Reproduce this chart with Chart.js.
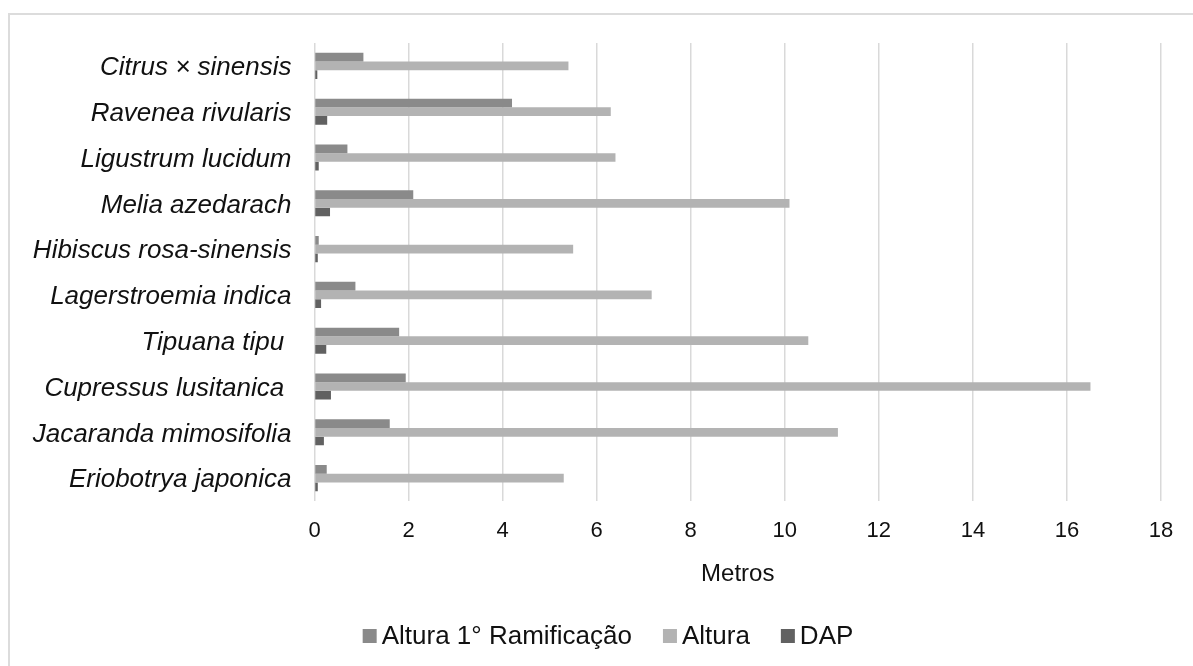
<!DOCTYPE html>
<html lang="pt">
<head>
<meta charset="utf-8">
<title>Altura, 1ª ramificação e DAP por espécie</title>
<script src="https://cdn.jsdelivr.net/npm/chart.js@4.4.1/dist/chart.umd.min.js"></script>
<style>
  html, body { margin: 0; padding: 0; background: #fff; overflow: hidden; }
  #wrap { position: relative; width: 1193px; height: 666px; overflow: hidden; }
  #frame { position: absolute; left: 8px; top: 13px; width: 1240px; height: 700px;
           border: 2px solid #dcdcdc; box-sizing: border-box; }
  canvas { position: absolute; left: 0; top: 0; }
</style>
</head>
<body>
<div id="wrap">
  <div id="frame"></div>
  <canvas id="chart" width="1193" height="666"></canvas>
</div>
<script>
// Espécies (de cima para baixo) e medidas em metros
const categories = [
  'Citrus × sinensis',
  'Ravenea rivularis',
  'Ligustrum lucidum',
  'Melia azedarach',
  'Hibiscus rosa-sinensis',
  'Lagerstroemia indica',
  'Tipuana tipu ',
  'Cupressus lusitanica ',
  'Jacaranda mimosifolia',
  'Eriobotrya japonica'
];
const alturaRamificacao = [1.04, 4.2, 0.7, 2.1, 0.09, 0.87, 1.8, 1.94, 1.6, 0.26];
const altura            = [5.4, 6.3, 6.4, 10.1, 5.5, 7.17, 10.5, 16.5, 11.13, 5.3];
const dap               = [0.06, 0.27, 0.09, 0.33, 0.07, 0.14, 0.25, 0.35, 0.2, 0.07];
const seriesNames = ['Altura 1° Ramificação', 'Altura', 'DAP'];
const xTicks = [0, 2, 4, 6, 8, 10, 12, 14, 16, 18];

const FONT = '"Liberation Sans", Arial, sans-serif';
const colors = ['#8a8a8a', '#b3b3b3', '#616161'];

// Legenda desenhada no canvas, centrada sob a área do gráfico
const bottomLegend = {
  id: 'bottomLegend',
  afterDraw(chart) {
    const ctx = chart.ctx;
    const box = 14, gapText = 5, gapItem = 31, cy = 636, cx = 608;
    ctx.save();
    ctx.font = '26px ' + FONT;
    ctx.textBaseline = 'middle';
    ctx.textAlign = 'left';
    const items = chart.data.datasets.map(d => ({
      label: d.label, color: d.backgroundColor, w: ctx.measureText(d.label).width
    }));
    const total = items.reduce((s, it) => s + box + gapText + it.w, 0) + gapItem * (items.length - 1);
    let x = cx - total / 2;
    items.forEach(it => {
      ctx.fillStyle = it.color;
      ctx.fillRect(x, cy - box / 2, box, box);
      ctx.fillStyle = '#111';
      ctx.fillText(it.label, x + box + gapText, cy + 1);
      x += box + gapText + it.w + gapItem;
    });
    ctx.restore();
  }
};

new Chart(document.getElementById('chart'), {
  type: 'bar',
  data: {
    labels: categories,
    datasets: [
      { label: seriesNames[0], data: alturaRamificacao, backgroundColor: colors[0] },
      { label: seriesNames[1], data: altura, backgroundColor: colors[1] },
      { label: seriesNames[2], data: dap, backgroundColor: colors[2] }
    ]
  },
  options: {
    indexAxis: 'y',
    responsive: false,
    animation: false,
    devicePixelRatio: 1,
    layout: { padding: { left: 0, right: 32, top: 43, bottom: 77.6 } },
    datasets: {
      bar: { barPercentage: 1, categoryPercentage: 0.57, borderWidth: 0 }
    },
    plugins: {
      legend: { display: false },
      tooltip: { enabled: false }
    },
    scales: {
      x: {
        min: 0,
        max: 18,
        afterBuildTicks(scale) { scale.ticks = xTicks.map(v => ({ value: v })); },
        afterFit(scale) { scale.height = 87.4; },
        grid: { color: '#d9d9d9', lineWidth: 1.5, drawTicks: false },
        border: { display: false },
        ticks: { color: '#111', font: { family: FONT, size: 22 }, padding: 17, maxRotation: 0 },
        title: {
          display: true, text: 'Metros', color: '#111',
          font: { family: FONT, size: 24 }, padding: { top: 0, bottom: 0 }
        }
      },
      y: {
        afterFit(scale) { scale.width = 314.5; },
        grid: { display: false, drawTicks: false },
        border: { display: false },
        ticks: {
          color: '#111', autoSkip: false, padding: 23, labelOffset: 2,
          font: { family: FONT, size: 26, style: 'italic' }
        }
      }
    }
  },
  plugins: [bottomLegend]
});
</script>
</body>
</html>
